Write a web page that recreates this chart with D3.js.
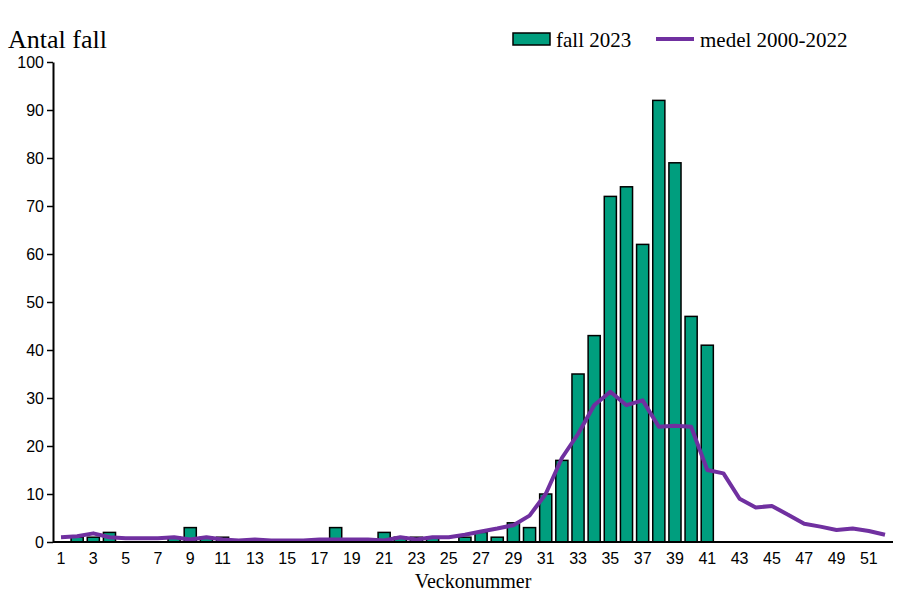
<!DOCTYPE html>
<html><head><meta charset="utf-8">
<script src="https://cdn.jsdelivr.net/npm/d3@7"></script>
<style>body{margin:0;background:#fff}svg{font-family:"Liberation Serif","Times New Roman",serif}</style>
</head><body><div id="chart"></div>
<script>
// weeks 1-52
const weeks = d3.range(1, 53);
// fall 2023, weeks 1-41
const cases2023 = [0,1,1,2,0,0,0,1,3,1,1,0,0,0,0,0,0,3,0,0,2,1,1,1,0,1,2,1,4,3,10,17,35,43,72,74,62,92,79,47,41];
// medel 2000-2022
const mean = [1,1.2,1.8,1,0.8,0.8,0.8,1,0.5,1,0.5,0.3,0.5,0.3,0.3,0.3,0.5,0.5,0.5,0.5,0.3,1,0.5,1,1,1.5,2.2,2.8,3.5,5.5,10,17.5,22.5,28.5,31.3,28.5,29.5,24,24.2,24,15,14.3,9,7.2,7.5,5.7,3.8,3.2,2.5,2.8,2.3,1.5];
const yTicks = d3.range(0, 101, 10);

const width = 917, height = 609;
const margin = {top: 62, right: 24, bottom: 67, left: 53};

const svg = d3.select('#chart').append('svg')
    .attr('width', width).attr('height', height);

const x = d3.scaleBand()
    .domain(weeks)
    .range([margin.left, width - margin.right])
    .paddingInner(0.25).paddingOuter(0.12);

const y = d3.scaleLinear()
    .domain([0, 100])
    .range([height - margin.bottom, margin.top]);

// Bars
svg.selectAll('rect.bar')
    .data(cases2023)
    .enter()
    .append('rect')
    .attr('class', 'bar')
    .attr('x', (d, i) => x(weeks[i]))
    .attr('y', d => y(d))
    .attr('width', x.bandwidth())
    .attr('height', d => y(0) - y(d))
    .attr('fill', '#009e7e')
    .attr('stroke', '#000')
    .attr('stroke-width', 1.5);

// Mean line
const line = d3.line()
    .x((d, i) => x(weeks[i]) + x.bandwidth() / 2)
    .y(d => y(d));
svg.append('path')
    .datum(mean)
    .attr('d', line)
    .attr('fill', 'none')
    .attr('stroke', '#7030a0')
    .attr('stroke-width', 4)
    .attr('stroke-linejoin', 'round');

// Y axis
const yAxis = svg.append('g')
    .attr('transform', `translate(${margin.left},0)`)
    .call(d3.axisLeft(y).tickValues(yTicks).tickSize(6).tickSizeOuter(0));
yAxis.select('.domain').attr('stroke-width', 2);
yAxis.selectAll('text').attr('font-size', 16).attr('fill', '#000').attr('font-family', 'inherit');
yAxis.selectAll('line').attr('stroke-width', 1.5);

// X axis
const xAxis = svg.append('g')
    .attr('transform', `translate(0,${y(0)})`)
    .call(d3.axisBottom(x).tickValues(weeks.filter(w => w % 2 === 1)).tickSize(0).tickSizeOuter(0));
xAxis.select('.domain').attr('stroke-width', 2).attr('d', `M${margin.left},0H${width - margin.right}`);
xAxis.selectAll('text').attr('font-size', 16).attr('fill', '#000').attr('font-family', 'inherit').attr('dy', '1.2em');

// Titles
svg.append('text').attr('x', 8).attr('y', 48).attr('font-size', 26).text('Antal fall');
svg.append('text').attr('x', 473).attr('y', 588).attr('text-anchor', 'middle').attr('font-size', 20).text('Veckonummer');

// Legend
svg.append('rect').attr('x', 513).attr('y', 33).attr('width', 37).attr('height', 12)
    .attr('fill', '#009e7e').attr('stroke', '#000').attr('stroke-width', 1.5);
svg.append('text').attr('x', 556).attr('y', 47).attr('font-size', 21).text('fall 2023');
svg.append('line').attr('x1', 656).attr('x2', 694).attr('y1', 39).attr('y2', 39)
    .attr('stroke', '#7030a0').attr('stroke-width', 4);
svg.append('text').attr('x', 700).attr('y', 47).attr('font-size', 21).text('medel 2000-2022');
</script></body></html>
